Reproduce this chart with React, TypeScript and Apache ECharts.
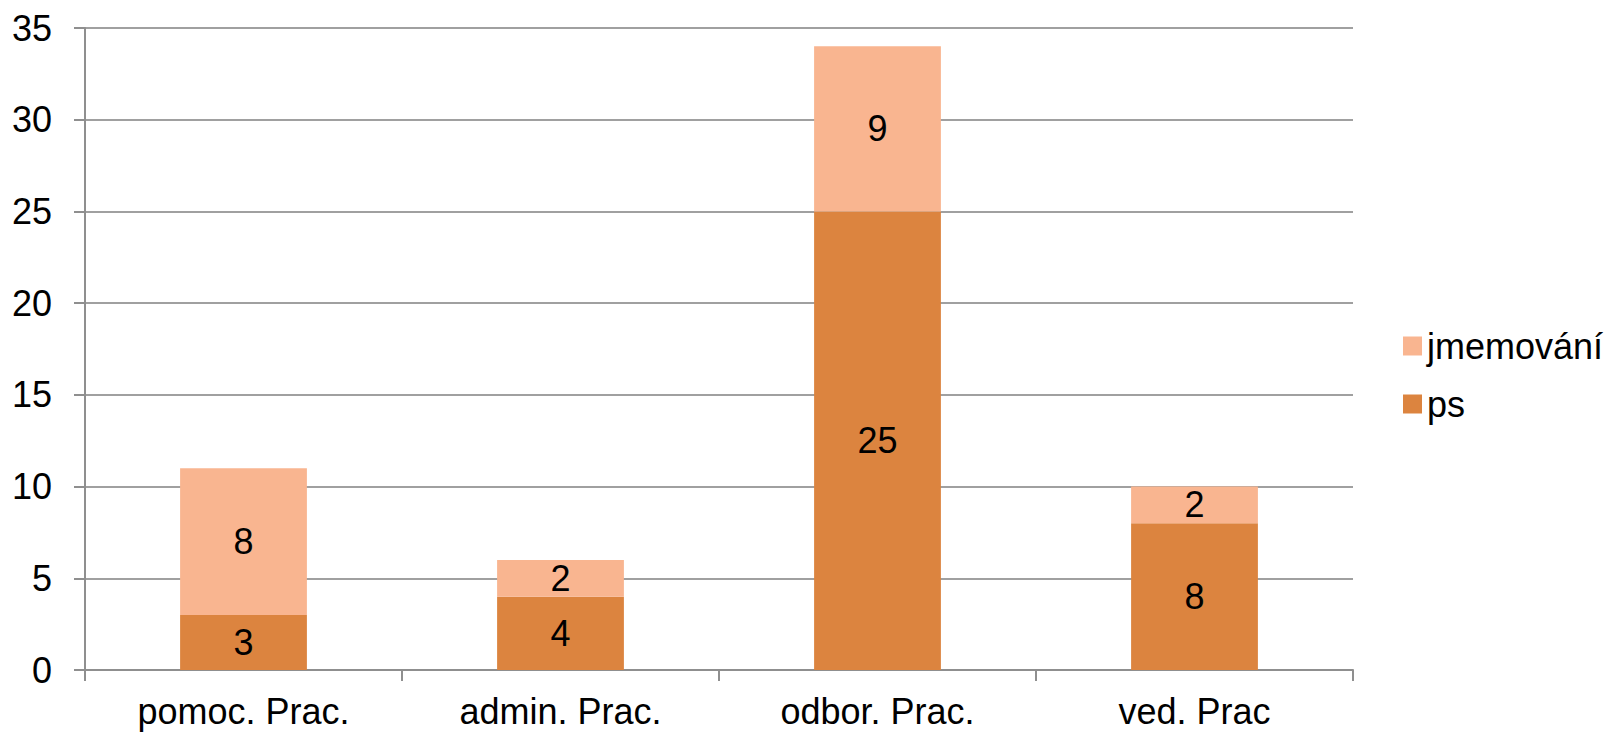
import React, { useEffect, useRef } from "react";
import * as echarts from "echarts";

const categories = ["pomoc. Prac.", "admin. Prac.", "odbor. Prac.", "ved. Prac"];
const psValues = [3, 4, 25, 8];
const jmemovaniValues = [8, 2, 9, 2];
const seriesNames = ["ps", "jmemování"];

const FONT = "'Liberation Sans', Arial, sans-serif";

export default function App() {
  const ref = useRef<HTMLDivElement>(null);
  useEffect(() => {
    if (!ref.current) return;
    const chart = echarts.init(ref.current, undefined, { renderer: "svg" });
    const label = {
      show: true,
      position: "inside" as const,
      color: "#000",
      fontSize: 36,
      fontFamily: FONT,
    };
    chart.setOption({
      animation: false,
      backgroundColor: "#fff",
      textStyle: { fontFamily: FONT },
      grid: {
        left: 85,
        right: 259,
        top: 28,
        bottom: 63,
        containLabel: false,
        outerBoundsMode: "none",
      },
      legend: {
        orient: "vertical",
        left: 1398,
        top: 323,
        itemWidth: 19,
        itemHeight: 19,
        itemGap: 22,
        icon: "rect",
        data: [seriesNames[1], seriesNames[0]],
        textStyle: { fontSize: 36, color: "#000", fontFamily: FONT },
      },
      xAxis: {
        type: "category",
        data: categories,
        axisLine: { lineStyle: { color: "#8f8f8f", width: 2 } },
        axisTick: { show: true, length: 11, lineStyle: { color: "#8f8f8f", width: 2 } },
        axisLabel: { color: "#000", fontSize: 36, margin: 23, fontFamily: FONT },
      },
      yAxis: {
        type: "value",
        min: 0,
        max: 35,
        interval: 5,
        axisLine: { show: true, lineStyle: { color: "#8f8f8f", width: 2 } },
        axisTick: { show: true, length: 11, lineStyle: { color: "#8f8f8f", width: 2 } },
        axisLabel: { color: "#000", fontSize: 36, margin: 33, fontFamily: FONT },
        splitLine: { lineStyle: { color: "#a0a0a0", width: 2 } },
      },
      series: [
        {
          name: seriesNames[0],
          type: "bar",
          stack: "total",
          data: psValues,
          barWidth: "40%",
          itemStyle: { color: "#DC843F" },
          label,
        },
        {
          name: seriesNames[1],
          type: "bar",
          stack: "total",
          data: jmemovaniValues,
          barWidth: "40%",
          itemStyle: { color: "#F9B590" },
          label,
        },
      ],
    });
    return () => chart.dispose();
  }, []);
  return (
    <div
      ref={ref}
      style={{ position: "fixed", left: 0, top: 0, width: 1612, height: 733 }}
    />
  );
}
